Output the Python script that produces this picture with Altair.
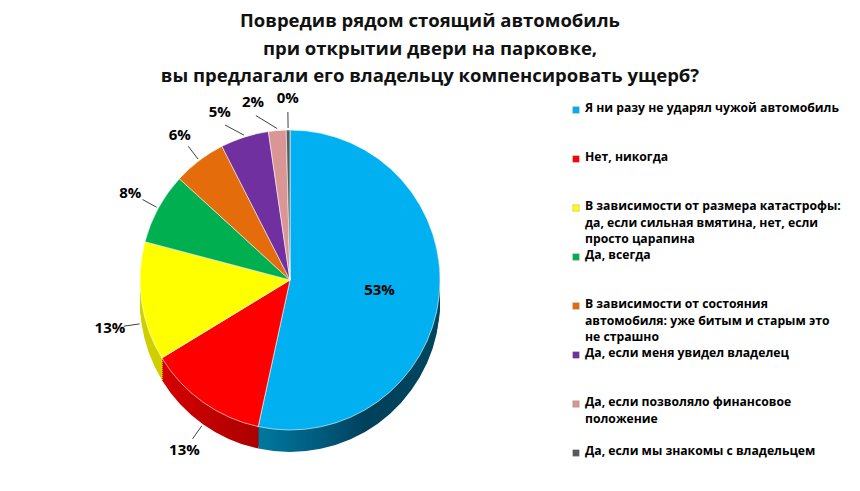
import math
import altair as alt
import pandas as pd

# ---- data ----
categories = [
    "Я ни разу не ударял чужой автомобиль",
    "Нет, никогда",
    "В зависимости от размера катастрофы:\nда, если сильная вмятина, нет, если\nпросто царапина",
    "Да, всегда",
    "В зависимости от состояния\nавтомобиля: уже битым и старым это\nне страшно",
    "Да, если меня увидел владелец",
    "Да, если позволяло финансовое\nположение",
    "Да, если мы знакомы с владельцем",
]
values = [53.4, 12.9, 12.8, 7.7, 5.7, 5.2, 1.9, 0.4]
colors = ["#00B0F0", "#FF0000", "#FFFF00", "#00B050", "#E46C0A", "#7030A0", "#D99694", "#595959"]
side_colors = ["#0A5A7C", "#B80000", "#CFCF00", "#007A3A", "#A84F06", "#532478", "#A87270", "#3A3A3A"]
title_lines = [
    "Повредив рядом стоящий автомобиль",
    "при открытии двери на парковке,",
    "вы предлагали его владельцу компенсировать ущерб?",
]

# ---- layout / style constants ----
W, H = 844, 475
CX, CY, R, DEPTH = 282, 272, 150, 22
LR = 182          # label radius
SEP = 11          # minimum angular separation of outside labels (deg)

grad_blue = {"gradient": "linear", "x1": 0, "y1": 0, "x2": 1, "y2": 0,
             "stops": [{"offset": 0, "color": "#0078A0"},
                       {"offset": 0.35, "color": "#005A7C"},
                       {"offset": 0.6, "color": "#00405A"},
                       {"offset": 1, "color": "#00465F"}]}
grad_red = {"gradient": "linear", "x1": 0, "y1": 0, "x2": 1, "y2": 0,
            "stops": [{"offset": 0, "color": "#D40000"},
                      {"offset": 1, "color": "#9E0000"}]}

# label angles: slice mid-angles, spread so that neighbouring labels do not collide
total = sum(values)
mids, cum = [], 0.0
for v in values:
    mids.append((cum + v / 2) / total * 360.0)
    cum += v
lab = mids[:]
for i in range(len(values) - 2, 0, -1):
    lab[i] = min(mids[i], lab[i + 1] - SEP)

df = pd.DataFrame({
    "idx": list(range(len(values))),
    "cat": categories,
    "value": values,
    "color": colors,
    "side": side_colors,
    "mid": mids,
    "lab": lab,
})

base = alt.Chart(df)
theta = alt.Theta("value:Q", stack=True)
order = alt.Order("idx:Q")

side_color = {
    "condition": [
        {"test": "datum.idx == 0", "value": grad_blue},
        {"test": "datum.idx == 1", "value": grad_red},
    ],
    "field": "side", "type": "nominal", "scale": None,
}

layers = []
# side (depth) of the pie
for d in range(DEPTH, 0, -2):
    layers.append(
        base.mark_arc(radius=R).encode(
            theta=theta, order=order,
            color=side_color,
            x=alt.value(CX), y=alt.value(CY + d),
        )
    )
# top face
layers.append(
    base.mark_arc(radius=R, stroke="#ffffff", strokeWidth=0.6).encode(
        theta=theta, order=order,
        color=alt.Color("color:N", scale=None),
        x=alt.value(CX), y=alt.value(CY),
    )
)

calc = base.transform_calculate(
    pct=alt.expr.format(alt.datum.value, ".0f") + "%",
    am="datum.mid * PI / 180",
    al="datum.lab * PI / 180",
).transform_calculate(
    dm=f"cos(datum.am) < 0 ? {DEPTH} : 0",
    dl=f"cos(datum.al) < 0 ? {DEPTH} : 0",
).transform_calculate(
    x1=f"{CX} + {R + 2} * sin(datum.am)",
    y1=f"{CY} - {R + 2} * cos(datum.am) + datum.dm",
    x2=f"{CX} + {LR - 14} * sin(datum.al)",
    y2=f"{CY} - {LR - 14} * cos(datum.al) + datum.dl",
    lx=f"datum.idx == 0 ? {CX} + {R * 0.6} * sin(datum.am) : {CX} + {LR} * sin(datum.al)",
    ly=f"datum.idx == 0 ? {CY} - {R * 0.6} * cos(datum.am) : {CY} - {LR} * cos(datum.al) + datum.dl",
)

layers.append(
    calc.transform_filter("datum.idx > 0").mark_rule(color="#404040", strokeWidth=1).encode(
        x=alt.X("x1:Q", scale=None), y=alt.Y("y1:Q", scale=None),
        x2="x2:Q", y2="y2:Q",
    )
)
layers.append(
    calc.mark_text(font="Open Sans", fontSize=15, fontWeight="bold", color="#000000",
                   align="center", baseline="middle").encode(
        x=alt.X("lx:Q", scale=None), y=alt.Y("ly:Q", scale=None), text="pct:N",
    )
)

# legend (custom, Excel-like even spacing)
LEG_X, LEG_Y0, LEG_STEP = 568, 102, 49
leg = base.transform_calculate(
    ly=f"{LEG_Y0} + datum.idx * {LEG_STEP}",
    ty=f"{LEG_Y0 - 8} + datum.idx * {LEG_STEP}",
)
layers.append(
    leg.mark_square(size=42, opacity=1, stroke="#7f7f7f", strokeWidth=0.3).encode(
        x=alt.value(LEG_X), y=alt.Y("ly:Q", scale=None),
        color=alt.Color("color:N", scale=None),
    )
)
layers.append(
    leg.mark_text(font="Open Sans", fontSize=12.2, fontWeight="bold", color="#000000",
                  align="left", baseline="top", lineBreak="\n", lineHeight=16.5).encode(
        x=alt.value(LEG_X + 9), y=alt.Y("ty:Q", scale=None), text="cat:N",
    )
)

# title
title_df = pd.DataFrame({"t": ["\n".join(title_lines)]})
layers.append(
    alt.Chart(title_df).mark_text(font="Open Sans", fontSize=18.5, fontWeight="bold",
                                  color="#111111", align="center", baseline="top",
                                  lineBreak="\n", lineHeight=27.5).encode(
        x=alt.value(422), y=alt.value(4), text="t:N",
    )
)

chart = alt.layer(*layers).properties(
    width=W, height=H,
    autosize=alt.AutoSizeParams(type="none"),
    padding=0,
).configure_view(stroke=None)

chart.save("out.html", embed_options={"renderer": "svg", "actions": False})
